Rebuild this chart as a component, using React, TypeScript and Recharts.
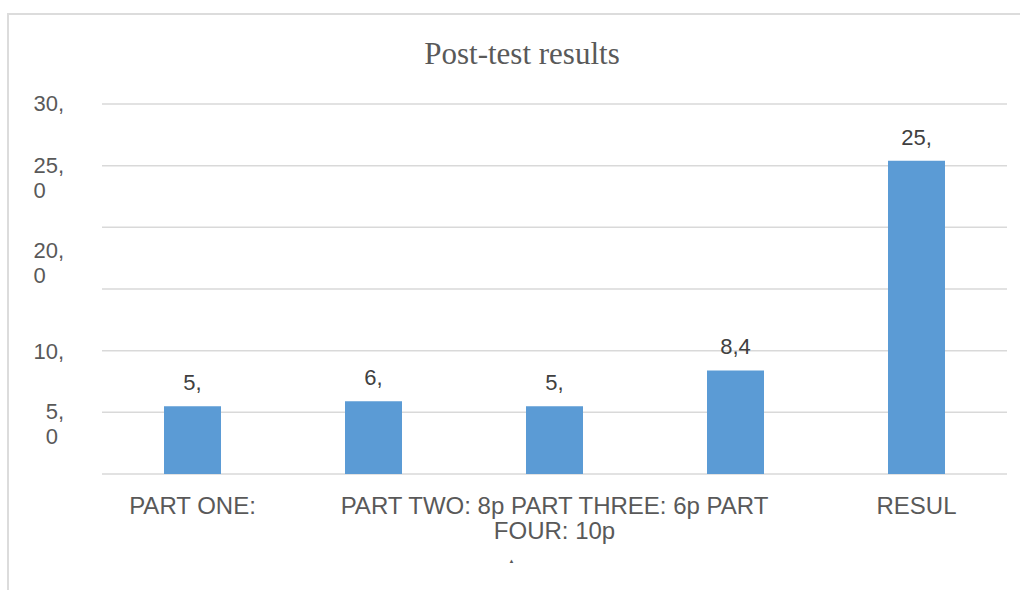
import React from "react";
import { BarChart, Bar, XAxis, YAxis, CartesianGrid, LabelList } from "recharts";

const categories = ["PART ONE", "PART TWO", "PART THREE", "PART FOUR", "RESULT"];
const scores = [5.5, 5.9, 5.5, 8.4, 25.4];
const barLabels = ["5,", "6,", "5,", "8,4", "25,"];
const xTickLines: string[][] = [
  ["PART ONE:"],
  [],
  ["PART TWO: 8p PART THREE: 6p PART", "FOUR: 10p"],
  [],
  ["RESUL"],
];
const yTicks = [0, 5, 10, 15, 20, 25, 30];
const yTickLines: string[][] = [[], ["5,", "0"], ["10,"], [], ["20,", "0"], ["25,", "0"], ["30,"]];

const data = categories.map((c, i) => ({ name: c, score: scores[i], label: barLabels[i] }));

const TEXT = "#595959";
const SANS = "'Liberation Sans', Arial, sans-serif";
const Y_FS = 22;
const Y_NUDGE: Record<number, number> = { 10: 1, 20: 24 };

function estWidth(s: string, fs: number) {
  let w = 0;
  for (const ch of s) w += ch === "," ? 0.278 : 0.556;
  return w * fs;
}

const YTick = (props: any) => {
  const { x, y, payload } = props;
  const idx = yTicks.indexOf(payload.value);
  const lines = idx >= 0 ? yTickLines[idx] : [];
  if (!lines.length) return null;
  const right = x - 30;
  const base = y + 7 + (Y_NUDGE[payload.value] || 0);
  const left = right - estWidth(lines[0], Y_FS);
  return (
    <g>
      <text x={right} y={base} textAnchor="end" fontFamily={SANS} fontSize={Y_FS} fill={TEXT}>
        {lines[0]}
      </text>
      {lines[1] ? (
        <text x={left} y={base + 25} textAnchor="start" fontFamily={SANS} fontSize={Y_FS} fill={TEXT}>
          {lines[1]}
        </text>
      ) : null}
    </g>
  );
};

const XTick = (props: any) => {
  const { x, y, index } = props;
  const lines = xTickLines[index] || [];
  return (
    <g>
      {lines.map((l, i) => (
        <text key={i} x={x} y={y + 32 + i * 25} textAnchor="middle" fontFamily={SANS} fontSize={24} fill={TEXT}>
          {l}
        </text>
      ))}
      {index === 2 ? (
        <text x={x - 43} y={y + 81} textAnchor="middle" fontFamily={SANS} fontSize={6} fill={TEXT}>
          ▲
        </text>
      ) : null}
    </g>
  );
};

const BarLabel = (props: any) => {
  const { x, y, width, value } = props;
  return (
    <text
      x={Number(x) + Number(width) / 2}
      y={Number(y) - 16}
      textAnchor="middle"
      fontFamily={SANS}
      fontSize={22}
      fill="#404040"
    >
      {value}
    </text>
  );
};

export default function App() {
  return (
    <div style={{ position: "absolute", left: 0, top: 0, width: 1020, height: 590, background: "#fff", overflow: "hidden" }}>
      <div
        style={{
          position: "absolute",
          left: 7,
          top: 13,
          width: 1040,
          height: 620,
          border: "2px solid #dcdcdc",
          boxSizing: "border-box",
        }}
      />
      <div style={{ position: "absolute", left: 0, top: 0 }}>
        <BarChart width={1020} height={590} data={data} margin={{ top: 104, right: 13, bottom: 56, left: 42 }}>
          <CartesianGrid vertical={false} stroke="#d9d9d9" strokeWidth={1.5} />
          <XAxis dataKey="name" axisLine={false} tickLine={false} height={60} tick={<XTick />} interval={0} />
          <YAxis
            domain={[0, 30]}
            ticks={yTicks}
            axisLine={false}
            tickLine={false}
            width={60}
            tick={<YTick />}
            interval={0}
          />
          <Bar dataKey="score" fill="#5b9bd5" barSize={57} isAnimationActive={false}>
            <LabelList dataKey="label" content={<BarLabel />} />
          </Bar>
        </BarChart>
      </div>
      <svg width={1020} height={590} style={{ position: "absolute", left: 0, top: 0, pointerEvents: "none" }}>
        <text x={522} y={64} textAnchor="middle" fontFamily="'Liberation Serif', 'Times New Roman', serif" fontSize={31} fill={TEXT}>
          Post-test results
        </text>
      </svg>
    </div>
  );
}
